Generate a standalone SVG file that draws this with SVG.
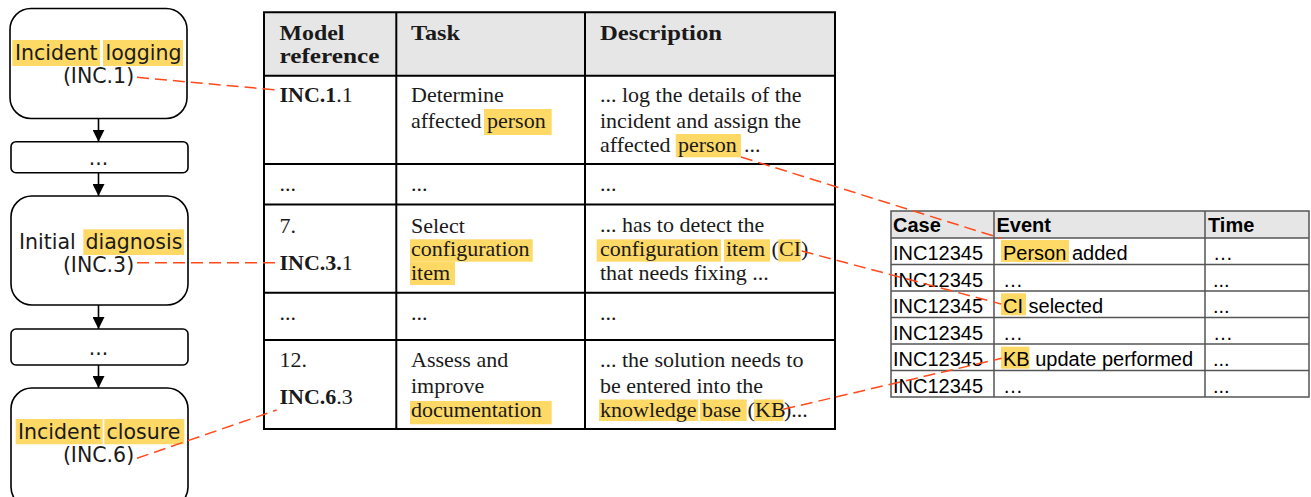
<svg xmlns="http://www.w3.org/2000/svg" width="1311" height="497" viewBox="0 0 1311 497">
<style>
.bg{fill:#ffffff}
.hl{fill:#ffd966}
.box{fill:#ffffff;stroke:#000000;stroke-width:1.6}
.arr{stroke:#000000;stroke-width:1.6;fill:none;marker-end:url(#ah)}
.conn{stroke:#ff4a1c;stroke-width:1.5;stroke-dasharray:12 6;fill:none}
.sans{font-family:"DejaVu Sans",Verdana,sans-serif;font-size:20.5px;fill:#1a1a1a}
.serif{font-family:"Liberation Serif","Times New Roman",serif;font-size:22px;fill:#1a1a1a}
.arial{font-family:"Liberation Sans",Arial,sans-serif;font-size:20px;fill:#000000}
.b{font-weight:bold}
.t1{stroke:#000000;stroke-width:2;fill:none}
.t2{stroke:#555555;stroke-width:1.5;fill:none}
.hdr{fill:#e6e6e6}
</style>
<defs>
<marker id="ah" viewBox="0 0 12 12" markerWidth="12" markerHeight="12" refX="12" refY="6" orient="auto" markerUnits="userSpaceOnUse">
<path d="M0,0 L12,6 L0,12 Z" fill="#000000"/>
</marker>
</defs>
<rect class="bg" x="0" y="0" width="1311" height="497"/>

<!-- Process flow -->
<g id="n-logging">
<rect class="box" x="10" y="8.5" width="177" height="110" rx="21"/>
<rect class="hl" x="12.3" y="40" width="87.7" height="26"/>
<rect class="hl" x="103" y="40" width="80" height="26"/>
<text class="sans" x="15" y="60">Incident</text>
<text class="sans" x="105.5" y="60">logging</text>
<text class="sans" x="98.5" y="82.5" text-anchor="middle">(INC.1)</text>
</g>
<g id="n-dots1">
<rect class="box" x="11" y="141.7" width="177" height="31" rx="5"/>
<text class="sans" x="98.5" y="165" text-anchor="middle">...</text>
</g>
<g id="n-diagnosis">
<rect class="box" x="11" y="196" width="177" height="109" rx="21"/>
<rect class="hl" x="83.3" y="229.3" width="100.7" height="25.7"/>
<text class="sans" x="19" y="249.3">Initial</text>
<text class="sans" x="85.5" y="249.3">diagnosis</text>
<text class="sans" x="98.5" y="271.8" text-anchor="middle">(INC.3)</text>
</g>
<g id="n-dots2">
<rect class="box" x="11" y="329" width="177" height="36" rx="5"/>
<text class="sans" x="98.5" y="354.5" text-anchor="middle">...</text>
</g>
<g id="n-closure">
<rect class="box" x="11" y="388" width="177" height="120" rx="21"/>
<rect class="hl" x="15.7" y="419" width="87" height="25.3"/>
<rect class="hl" x="104.3" y="419" width="80" height="25.3"/>
<text class="sans" x="18" y="439">Incident</text>
<text class="sans" x="106.5" y="439">closure</text>
<text class="sans" x="98.5" y="461.5" text-anchor="middle">(INC.6)</text>
</g>

<g id="flow-arrows">
<line class="arr" x1="98.5" y1="118.5" x2="98.5" y2="141.7"/>
<line class="arr" x1="98.5" y1="172.7" x2="98.5" y2="196"/>
<line class="arr" x1="98.5" y1="305" x2="98.5" y2="329"/>
<line class="arr" x1="98.5" y1="365" x2="98.5" y2="388"/>
</g>

<!-- Table 1 -->
<g id="table-model">
<rect class="hdr" x="264" y="12.3" width="571" height="63.4"/>
<rect class="hl" x="484" y="109" width="67.7" height="26"/>
<rect class="hl" x="675.7" y="134" width="65.3" height="23.3"/>
<rect class="hl" x="410" y="239.3" width="122.7" height="22.4"/>
<rect class="hl" x="410" y="261.7" width="45" height="23.3"/>
<rect class="hl" x="596.7" y="239.3" width="124.3" height="22.4"/>
<rect class="hl" x="724" y="239.3" width="46" height="22.4"/>
<rect class="hl" x="778.3" y="239.3" width="22.4" height="22.4"/>
<rect class="hl" x="410" y="401" width="141.7" height="23.3"/>
<rect class="hl" x="599" y="399.5" width="99.3" height="21.5"/>
<rect class="hl" x="700" y="399.5" width="46.7" height="21.5"/>
<rect class="hl" x="754" y="399.5" width="29.3" height="21.5"/>
<path class="t1" d="M264,12.3 H835 V429 H264 Z M264,75.7 H835 M264,164 H835 M264,204.5 H835 M264,292.7 H835 M264,340 H835 M396.3,12.3 V429 M585,12.3 V429"/>
<text class="serif b" x="279.5" y="40" textLength="65" lengthAdjust="spacingAndGlyphs">Model</text>
<text class="serif b" x="279.5" y="63" textLength="100" lengthAdjust="spacingAndGlyphs">reference</text>
<text class="serif b" x="411" y="40" textLength="49" lengthAdjust="spacingAndGlyphs">Task</text>
<text class="serif b" x="600" y="40" textLength="122" lengthAdjust="spacingAndGlyphs">Description</text>

<text class="serif" x="279.5" y="101.7"><tspan class="b">INC.1</tspan>.1</text>
<text class="serif" x="411" y="102">Determine</text>
<text class="serif" x="411" y="127.7">affected</text>
<text class="serif" x="487" y="127.7">person</text>
<text class="serif" x="600" y="101.7">... log the details of the</text>
<text class="serif" x="600" y="127.7">incident and assign the</text>
<text class="serif" x="600" y="151.7">affected</text>
<text class="serif" x="678" y="151.7">person</text>
<text class="serif" x="744" y="151.7">...</text>

<text class="serif" x="279.5" y="190.5">...</text>
<text class="serif" x="411" y="190.5">...</text>
<text class="serif" x="600" y="190.5">...</text>

<text class="serif" x="279.5" y="233">7.</text>
<text class="serif" x="279.5" y="270"><tspan class="b">INC.3.</tspan>1</text>
<text class="serif" x="411" y="233">Select</text>
<text class="serif" x="411" y="255.5">configuration</text>
<text class="serif" x="411" y="280">item</text>
<text class="serif" x="600" y="231.7">... has to detect the</text>
<text class="serif" x="600" y="255.5">configuration</text>
<text class="serif" x="726" y="255.5">item</text>
<text class="serif" x="771.5" y="255.5">(</text>
<text class="serif" x="779" y="255.5">CI</text>
<text class="serif" x="801" y="255.5">)</text>
<text class="serif" x="600" y="280">that needs fixing ...</text>

<text class="serif" x="279.5" y="319.5">...</text>
<text class="serif" x="411" y="319.5">...</text>
<text class="serif" x="600" y="319.5">...</text>

<text class="serif" x="279.5" y="366.7">12.</text>
<text class="serif" x="279.5" y="404"><tspan class="b">INC.6</tspan>.3</text>
<text class="serif" x="411" y="366.7">Assess and</text>
<text class="serif" x="411" y="392.7">improve</text>
<text class="serif" x="411" y="416.7">documentation</text>
<text class="serif" x="600" y="366.7">... the solution needs to</text>
<text class="serif" x="600" y="392.7">be entered into the</text>
<text class="serif" x="600" y="416.7">knowledge</text>
<text class="serif" x="702" y="416.7">base</text>
<text class="serif" x="747.5" y="416.7">(</text>
<text class="serif" x="755" y="416.7">KB</text>
<text class="serif" x="784" y="416.7">)...</text>
</g>

<!-- Table 2 -->
<g id="table-log">
<rect class="hdr" x="891" y="211" width="418" height="27"/>
<rect class="hl" x="1001" y="240" width="68" height="22"/>
<rect class="hl" x="1001" y="293.3" width="25" height="22"/>
<rect class="hl" x="1001" y="346.7" width="28.5" height="22"/>
<path class="t2" d="M891,211 H1309 V397 H891 Z M891,238 H1309 M891,264.5 H1309 M891,291 H1309 M891,317.5 H1309 M891,344 H1309 M891,370.5 H1309 M994,211 V397 M1205,211 V397"/>
<text class="arial b" x="893" y="231.7">Case</text>
<text class="arial b" x="996.5" y="231.7">Event</text>
<text class="arial b" x="1208" y="231.7">Time</text>

<text class="arial" x="893" y="260">INC12345</text>
<text class="arial" x="893" y="286.5">INC12345</text>
<text class="arial" x="893" y="313">INC12345</text>
<text class="arial" x="893" y="339.5">INC12345</text>
<text class="arial" x="893" y="366">INC12345</text>
<text class="arial" x="893" y="392.5">INC12345</text>

<text class="arial" x="1003" y="260">Person added</text>
<text class="arial" x="1003" y="286.5">…</text>
<text class="arial" x="1003" y="313">CI selected</text>
<text class="arial" x="1003" y="339.5">…</text>
<text class="arial" x="1003" y="366">KB update performed</text>
<text class="arial" x="1003" y="392.5">…</text>

<text class="arial" x="1213" y="260">…</text>
<text class="arial" x="1213" y="286.5">...</text>
<text class="arial" x="1213" y="313">...</text>
<text class="arial" x="1213" y="339.5">…</text>
<text class="arial" x="1213" y="366">...</text>
<text class="arial" x="1213" y="392.5">...</text>
</g>

<!-- Connectors -->
<g id="connectors">
<line class="conn" x1="137" y1="77.3" x2="276.7" y2="90"/>
<line class="conn" x1="137" y1="262.7" x2="276.7" y2="262.7"/>
<line class="conn" x1="137" y1="458.3" x2="276.7" y2="410"/>
<line class="conn" x1="741" y1="157" x2="1001.5" y2="238.5"/>
<line class="conn" x1="801.7" y1="251" x2="1001" y2="304"/>
<line class="conn" x1="783.3" y1="409.3" x2="1001.7" y2="358.3"/>
</g>
</svg>
